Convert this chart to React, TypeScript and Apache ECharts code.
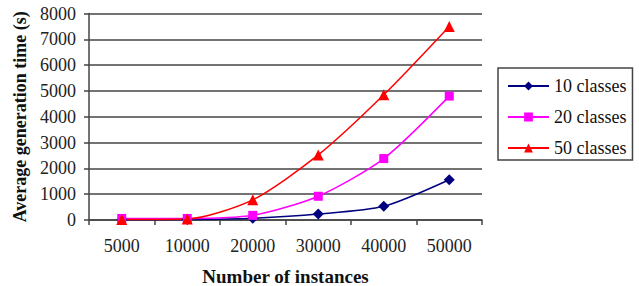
import React, { useEffect, useRef } from "react";
import * as echarts from "echarts";

const categories = ["5000", "10000", "20000", "30000", "40000", "50000"];
const classes10 = [5, 15, 70, 230, 530, 1560];
const classes20 = [60, 60, 180, 920, 2380, 4800];
const classes50 = [20, 40, 780, 2520, 4850, 7500];
const seriesNames = ["10 classes", "20 classes", "50 classes"];

const FONT = "Liberation Serif";

export default function App() {
  const ref = useRef<HTMLDivElement>(null);
  useEffect(() => {
    if (!ref.current) return;
    const chart = echarts.init(ref.current, null, { renderer: "svg" });
    const axisLineStyle = { color: "#444", width: 1.5 };
    chart.setOption({
      animation: false,
      textStyle: { fontFamily: FONT, color: "#111" },
      grid: {
        left: 89,
        right: 157,
        top: 13.5,
        bottom: 66,
        containLabel: false,
        outerBoundsMode: "none",
      },
      legend: {
        orient: "vertical",
        left: 498,
        top: 68,
        data: seriesNames,
        itemWidth: 41,
        itemHeight: 11,
        itemGap: 13,
        padding: [9, 6, 3, 9],
        borderColor: "#444",
        borderWidth: 1.5,
        textStyle: { fontFamily: FONT, fontSize: 18, color: "#111" },
      },
      xAxis: {
        type: "category",
        data: categories,
        boundaryGap: true,
        name: "Number of instances",
        nameLocation: "middle",
        nameGap: 47,
        nameTextStyle: { fontFamily: FONT, fontSize: 19, fontWeight: "bold", color: "#111" },
        axisLine: { lineStyle: axisLineStyle },
        axisTick: { show: true, length: 5, lineStyle: axisLineStyle, alignWithLabel: false },
        axisLabel: { fontFamily: FONT, fontSize: 18, color: "#222", margin: 17 },
        splitLine: { show: false },
      },
      yAxis: {
        type: "value",
        min: 0,
        max: 8000,
        interval: 1000,
        name: "Average generation time (s)",
        nameLocation: "middle",
        nameGap: 58,
        nameTextStyle: { fontFamily: FONT, fontSize: 18, fontWeight: "bold", color: "#111" },
        axisLine: { show: true, lineStyle: axisLineStyle },
        axisTick: { show: true, length: 5, lineStyle: axisLineStyle },
        axisLabel: {
          fontFamily: FONT,
          fontSize: 18,
          color: "#222",
          margin: 13,
          formatter: (v: number) => String(v),
        },
        splitLine: { show: true, lineStyle: axisLineStyle },
      },
      series: [
        {
          name: seriesNames[0],
          type: "line",
          data: classes10,
          smooth: 0.25,
          symbol: "diamond",
          symbolSize: 11,
          color: "#000080",
          lineStyle: { width: 1.5, color: "#000080" },
          itemStyle: { color: "#000080" },
        },
        {
          name: seriesNames[1],
          type: "line",
          data: classes20,
          smooth: 0.25,
          symbol: "rect",
          symbolSize: 9,
          color: "#FF00FF",
          lineStyle: { width: 1.5, color: "#FF00FF" },
          itemStyle: { color: "#FF00FF" },
        },
        {
          name: seriesNames[2],
          type: "line",
          data: classes50,
          smooth: 0.25,
          symbol: "triangle",
          symbolSize: 11,
          color: "#FF0000",
          lineStyle: { width: 1.5, color: "#FF0000" },
          itemStyle: { color: "#FF0000" },
        },
      ],
    });
    return () => chart.dispose();
  }, []);
  return <div ref={ref} style={{ width: 639, height: 286, position: "absolute", left: 0, top: 0 }} />;
}
